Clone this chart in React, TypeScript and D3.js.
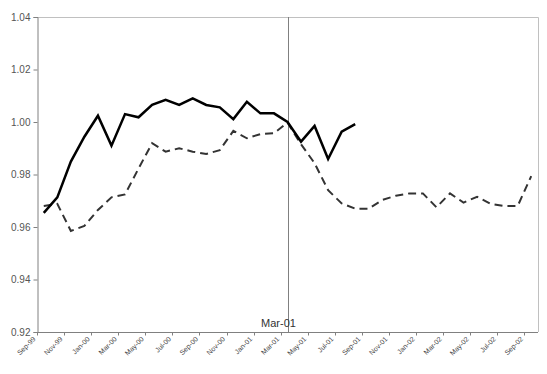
import React, { useRef, useEffect } from "react";
import * as d3 from "d3";

const months = [
  "Sep-99", "Oct-99", "Nov-99", "Dec-99", "Jan-00", "Feb-00", "Mar-00", "Apr-00",
  "May-00", "Jun-00", "Jul-00", "Aug-00", "Sep-00", "Oct-00", "Nov-00", "Dec-00",
  "Jan-01", "Feb-01", "Mar-01", "Apr-01", "May-01", "Jun-01", "Jul-01", "Aug-01",
  "Sep-01", "Oct-01", "Nov-01", "Dec-01", "Jan-02", "Feb-02", "Mar-02", "Apr-02",
  "May-02", "Jun-02", "Jul-02", "Aug-02", "Sep-02",
];

// solid series (ends Aug-01)
const actual = [
  0.9654, 0.9713, 0.9849, 0.9944, 1.0024, 0.991, 1.003, 1.0018, 1.0065, 1.0084,
  1.0065, 1.009, 1.0065, 1.0056, 1.0011, 1.0077, 1.0033, 1.0033, 1.0, 0.9925,
  0.9985, 0.9859, 0.9963, 0.9992,
];

// dashed series
const compare = [
  0.968, 0.9688, 0.9585, 0.9604, 0.9665, 0.9713, 0.9724, 0.9823, 0.9919, 0.9887,
  0.99, 0.9887, 0.9878, 0.9893, 0.9966, 0.9938, 0.9954, 0.9957, 0.9998, 0.9915,
  0.9843, 0.974, 0.969, 0.967, 0.967, 0.9703, 0.9719, 0.9728, 0.9728, 0.9675,
  0.9728, 0.9693, 0.9715, 0.9688, 0.968, 0.968, 0.9794,
];

const yTicks = [0.92, 0.94, 0.96, 0.98, 1.0, 1.02, 1.04];
const markerMonth = "Mar-01";

const App = () => {
  const ref = useRef<SVGSVGElement>(null);

  useEffect(() => {
    const width = 547;
    const height = 374;
    const m = { left: 37, right: 9, top: 17, bottom: 42 };
    const svg = d3.select(ref.current);
    svg.selectAll("*").remove();

    const x = d3
      .scaleBand()
      .domain(months)
      .range([m.left, width - m.right]);
    const y = d3
      .scaleLinear()
      .domain([0.92, 1.04])
      .range([height - m.bottom, m.top]);

    const bottom = height - m.bottom;
    const font = "Arial, 'Liberation Sans', sans-serif";

    // plot frame (top + right light gray)
    svg
      .append("path")
      .attr("d", `M${m.left},${m.top + 0.5}H${width - m.right + 0.5}V${bottom}`)
      .attr("fill", "none")
      .attr("stroke", "#c0c0c0")
      .attr("stroke-width", 1);

    // y axis
    const yAxis = svg
      .append("g")
      .attr("transform", `translate(${m.left + 0.5},0)`)
      .call(
        d3
          .axisLeft(y)
          .tickValues(yTicks)
          .tickFormat(d3.format(".2f"))
          .tickSize(4)
          .tickPadding(3)
      );
    yAxis.select(".domain").attr("stroke", "#808080");
    yAxis.selectAll(".tick line").attr("stroke", "#808080");
    yAxis
      .selectAll(".tick text")
      .attr("fill", "#555")
      .style("font-family", font)
      .style("font-size", "10px");

    // x axis: ticks every 2 months at category boundaries
    const xg = svg.append("g").attr("transform", `translate(0,${bottom + 0.5})`);
    xg.append("line")
      .attr("x1", m.left)
      .attr("x2", width - m.right)
      .attr("stroke", "#808080");
    const labelled = months.filter((_, i) => i % 2 === 0);
    xg.selectAll("line.tk")
      .data(labelled)
      .enter()
      .append("line")
      .attr("class", "tk")
      .attr("x1", (d) => Math.round(x(d)!) + 0.5)
      .attr("x2", (d) => Math.round(x(d)!) + 0.5)
      .attr("y1", 0)
      .attr("y2", 3)
      .attr("stroke", "#808080");
    xg.selectAll("text")
      .data(labelled)
      .enter()
      .append("text")
      .attr("transform", (d) => `translate(${x(d)! - 1},7) rotate(-45)`)
      .attr("text-anchor", "end")
      .attr("fill", "#444")
      .style("font-family", font)
      .style("font-size", "7px")
      .text((d) => d);

    // marker line
    const mx = Math.round(x(markerMonth)! + x.bandwidth() / 2) + 0.5;
    svg
      .append("line")
      .attr("x1", mx)
      .attr("x2", mx)
      .attr("y1", m.top)
      .attr("y2", bottom)
      .attr("stroke", "#808080")
      .attr("stroke-width", 1);
    svg
      .append("text")
      .attr("x", mx - 10)
      .attr("y", bottom - 5)
      .attr("text-anchor", "middle")
      .attr("fill", "#333")
      .style("font-family", font)
      .style("font-size", "11px")
      .text(markerMonth);

    const line = d3
      .line<number>()
      .x((_, i) => x(months[i])! + x.bandwidth() / 2)
      .y((d) => y(d));

    svg
      .append("path")
      .datum(compare)
      .attr("d", line)
      .attr("fill", "none")
      .attr("stroke", "#333")
      .attr("stroke-width", 2)
      .attr("stroke-dasharray", "8,5");

    svg
      .append("path")
      .datum(actual)
      .attr("d", line)
      .attr("fill", "none")
      .attr("stroke", "#000")
      .attr("stroke-width", 2.5)
      .attr("stroke-linejoin", "miter");
  }, []);

  return (
    <svg
      ref={ref}
      width={547}
      height={374}
      style={{ position: "absolute", left: 0, top: 0, background: "#fff" }}
    />
  );
};

export default App;
